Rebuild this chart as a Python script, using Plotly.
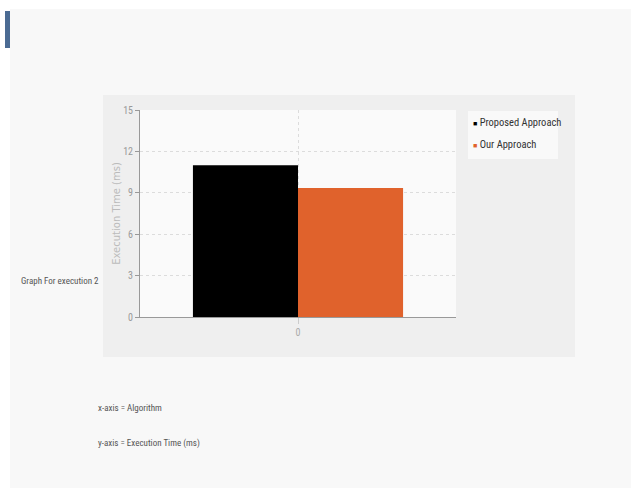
import plotly.graph_objects as go

categories = ["0"]
series_names = ["Proposed Approach", "Our Approach"]
series_colors = ["#000000", "#e0622c"]
proposed = [11.0]
ours = [9.35]
y_ticks = [0, 3, 6, 9, 12, 15]

W, H = 633, 488
L, R, T, B = 140, 456, 110, 317
pw, ph = R - L, B - T


def fx(px):
    return (px - L) / pw


def fy(py):
    return (B - py) / ph


cond = "Roboto Condensed, Liberation Sans Narrow, sans-serif"

fig = go.Figure()
fig.add_trace(go.Bar(x=categories, y=proposed, name=series_names[0], showlegend=False,
                     marker=dict(color=series_colors[0], line=dict(width=0))))
fig.add_trace(go.Bar(x=categories, y=ours, name=series_names[1], showlegend=False,
                     marker=dict(color=series_colors[1], line=dict(width=0))))

shapes = [
    # page background
    dict(type="rect", xref="paper", yref="paper", x0=fx(10), x1=fx(631), y0=fy(488), y1=fy(9),
         fillcolor="#f8f8f8", line=dict(width=0), layer="below"),
    # blue marker bar
    dict(type="rect", xref="paper", yref="paper", x0=fx(5), x1=fx(10), y0=fy(48), y1=fy(11),
         fillcolor="#4b6b93", line=dict(width=0), layer="below"),
    # chart panel
    dict(type="rect", xref="paper", yref="paper", x0=fx(103), x1=fx(575), y0=fy(357), y1=fy(95),
         fillcolor="#efefef", line=dict(width=0), layer="below"),
    # plot area background
    dict(type="rect", xref="paper", yref="paper", x0=0, x1=1, y0=0, y1=1,
         fillcolor="#fafafa", line=dict(width=0), layer="below"),
    # legend box
    dict(type="rect", xref="paper", yref="paper", x0=fx(468), x1=fx(558), y0=fy(159), y1=fy(111),
         fillcolor="#f9f9f9", line=dict(width=0), layer="below"),
]

annotations = [
    dict(text="Graph For execution 2", xref="paper", yref="paper", x=fx(19), y=fy(281),
         xanchor="left", yanchor="middle", showarrow=False,
         font=dict(family=cond, size=9, color="#555555")),
    dict(text="x-axis = Algorithm", xref="paper", yref="paper", x=fx(96), y=fy(408),
         xanchor="left", yanchor="middle", showarrow=False,
         font=dict(family=cond, size=9, color="#555555")),
    dict(text="y-axis = Execution Time (ms)", xref="paper", yref="paper", x=fx(96), y=fy(443),
         xanchor="left", yanchor="middle", showarrow=False,
         font=dict(family=cond, size=9, color="#555555")),
]

legend_y = [123, 144]
for name, color, ly in zip(series_names, series_colors, legend_y):
    annotations.append(dict(
        text=f"<span style='color:{color};font-size:7px'>■</span> {name}",
        xref="paper", yref="paper", x=fx(471), y=fy(ly), xanchor="left", yanchor="middle",
        showarrow=False, font=dict(family=cond, size=10.5, color="#333333")))

fig.update_layout(
    width=W, height=H,
    margin=dict(l=L, r=W - R, t=T, b=H - B, pad=0),
    paper_bgcolor="#ffffff",
    plot_bgcolor="rgba(0,0,0,0)",
    barmode="group",
    bargap=0.335,
    bargroupgap=0,
    shapes=shapes,
    annotations=annotations,
    showlegend=False,
    xaxis=dict(
        showgrid=True, gridcolor="#dcdcdc", griddash="dot",
        showline=True, linecolor="#999999", linewidth=1,
        ticks="outside", ticklen=6, tickcolor="#cccccc",
        tickfont=dict(family=cond, size=10, color="#aaaaaa"),
    ),
    yaxis=dict(
        range=[0, 15], tickvals=y_ticks,
        showgrid=True, gridcolor="#dcdcdc", griddash="dot",
        showline=True, linecolor="#999999", linewidth=1,
        ticks="outside", ticklen=4, tickcolor="#999999",
        tickfont=dict(family=cond, size=10, color="#999999"),
        zeroline=False,
        title=dict(text="Execution Time (ms)", standoff=0,
                   font=dict(family="DejaVu Sans, sans-serif", size=10, color="#bbbbbb")),
    ),
)

fig.write_html("out.html")
